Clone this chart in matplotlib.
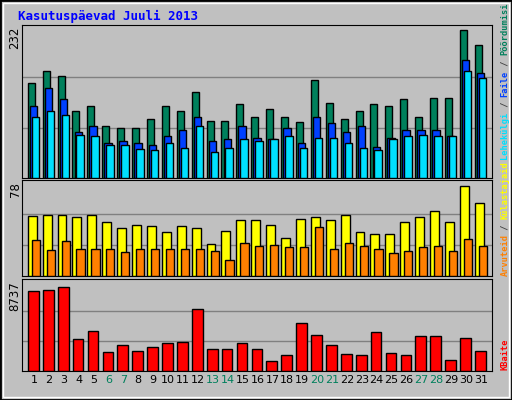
import matplotlib
matplotlib.use("Agg")
import matplotlib.pyplot as plt
import numpy as np

days = list(range(1, 32))
weekend = [6, 7, 13, 14, 20, 21, 27, 28]
# pixel-read values
visits = [145, 164, 156, 102, 110, 80, 77, 76, 91, 110, 102, 131, 88, 88, 113, 93, 105, 94, 85, 150, 115, 90, 102, 113, 111, 121, 94, 122, 122, 227, 204]
files = [110, 138, 121, 70, 80, 53, 56, 53, 51, 65, 73, 94, 57, 59, 79, 62, 60, 77, 54, 94, 84, 70, 79, 48, 62, 74, 73, 74, 65, 181, 161]
pages = [93, 102, 96, 66, 65, 51, 50, 45, 43, 53, 46, 80, 40, 46, 60, 57, 60, 65, 46, 62, 62, 53, 46, 43, 59, 64, 66, 65, 65, 164, 153]
hosts_y = [50, 51, 51, 49, 51, 45, 40, 43, 42, 37, 42, 40, 27, 38, 47, 47, 43, 32, 48, 49, 47, 51, 37, 35, 35, 45, 49, 54, 45, 75, 61]
hosts_o = [30, 22, 29, 23, 23, 23, 20, 23, 23, 23, 23, 23, 21, 13, 28, 25, 26, 24, 24, 41, 23, 28, 25, 23, 19, 21, 24, 25, 21, 31, 25]
kbytes = [7863, 7960, 8251, 3107, 3884, 1845, 2524, 1942, 2330, 2718, 2815, 6019, 2136, 2136, 2718, 2136, 971, 1553, 4660, 3495, 2524, 1650, 1553, 3787, 1747, 1553, 3398, 3398, 1068, 3204, 1942]
ymax = [232, 78, 8737]

W, H = 512, 400
fig = plt.figure(figsize=(W/100, H/100), dpi=100)
fig.patch.set_facecolor("#c0c0c0")
fig.add_artist(plt.Rectangle((0, 0), 1, 1, transform=fig.transFigure, fill=False, ec="black", lw=2))
fig.add_artist(plt.Rectangle((3/W, 3/H), 1-6/W, 1-6/H, transform=fig.transFigure, fill=False, ec="white", lw=1))

left, right = 22, 492
panels = [(25, 178), (180, 276), (279, 371)]
x0 = 1 - 12/14.9
x1 = 31 + 11/14.9
axes = []
for (t, b) in panels:
    ax = fig.add_axes([left/W, 1-b/H, (right-left)/W, (b-t)/H])
    ax.set_facecolor("#c0c0c0")
    ax.set_xlim(x0, x1)
    for s in ax.spines.values():
        s.set_color("black")
    ax.set_xticks([]); ax.set_yticks([])
    axes.append(ax)

d = np.array(days)
kw = dict(edgecolor="black", linewidth=1, align="edge", zorder=3)
ax = axes[0]
ax.set_ylim(0, ymax[0]*1.01)
for g in (ymax[0]/3, 2*ymax[0]/3):
    ax.axhline(g, color="#808080", lw=1, zorder=1)
ax.bar(d-0.42, visits, 0.47, color="#00805c", **kw)
ax.bar(d-0.28, files, 0.5, color="#0040ff", **kw)
ax.bar(d-0.15, pages, 0.5, color="#00e0ff", **kw)

ax = axes[1]
ax.set_ylim(0, ymax[1]*1.03)
for g in (ymax[1]/3, 2*ymax[1]/3):
    ax.axhline(g, color="#808080", lw=1, zorder=1)
ax.bar(d-0.42, hosts_y, 0.6, color="#ffff00", **kw)
ax.bar(d-0.15, hosts_o, 0.55, color="#ff8000", **kw)

ax = axes[2]
ax.set_ylim(0, ymax[2]*1.03)
for g in (ymax[2]/3, 2*ymax[2]/3):
    ax.axhline(g, color="#808080", lw=1, zorder=1)
ax.bar(d-0.4, kbytes, 0.72, color="#ff0000", **kw)
ax.set_xticks(days)
ax.set_xticklabels([str(x) for x in days], fontsize=8)
for lab, dd in zip(ax.get_xticklabels(), days):
    if dd in weekend:
        lab.set_color("#00805c")
ax.tick_params(axis="x", length=0, pad=3)

mono = dict(family="DejaVu Sans Mono", fontweight="bold")
fig.text(18/W, 1-16/H, "Kasutuspäevad Juuli 2013", color="#0000ff", fontsize=9, va="center", **mono)
for (t, b), v in zip(panels, ymax):
    fig.text(15/W, 1-(t+2)/H, str(v), rotation=90, fontsize=8.5, va="top", ha="center", family="DejaVu Sans")

FS = 6.2
CW = FS*100/72*0.602

def vlabel(pieces, ybottom, x=505):
    y = ybottom
    for txt, col in pieces:
        fig.text(x/W, 1-y/H, txt, rotation=90, color=col, fontsize=FS, va="bottom", ha="center", **mono)
        y -= len(txt)*CW

vlabel([("Arvuteid", "#ff8000"), (" / ", "#404040"), ("Külastajaid", "#ffff00")], 276)
vlabel([("Lehekülgi", "#00e0ff"), (" / ", "#404040"), ("Faile", "#0040ff"), (" / ", "#404040"), ("Pöördumisi", "#00805c")], 276 - 22*CW - 3)
vlabel([("KBaite", "#ff0000")], 370)

fig.savefig("out.png", dpi=100, facecolor=fig.get_facecolor())
